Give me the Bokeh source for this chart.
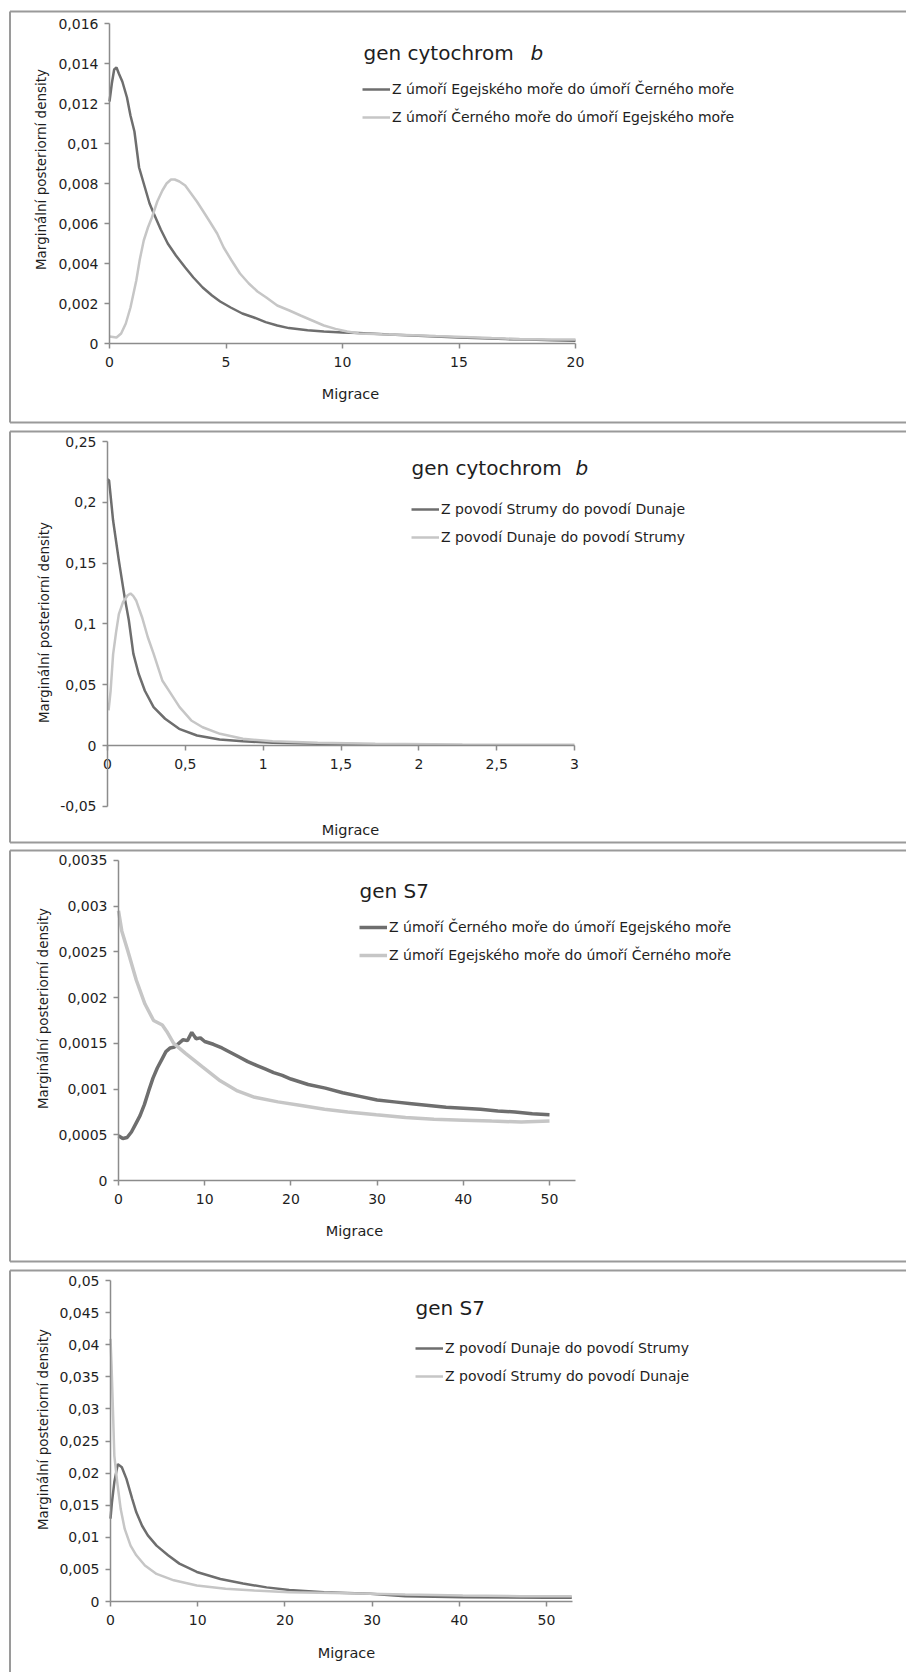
import math
from bokeh.plotting import figure
from bokeh.models import (LinearAxis, FixedTicker, CustomJSTickFormatter, Label,
                          Legend, LegendItem, Range1d)
from bokeh.layouts import column
from bokeh.embed import file_html
from bokeh.resources import INLINE

# ---------------- data ----------------
# Panel 1: gen cytochrom b (Aegean / Black Sea)
p1_dark_x = [0, 0.1, 0.2, 0.3, 0.4, 0.55, 0.75, 0.9, 1.07, 1.27, 1.52, 1.72, 1.9, 2.2, 2.5, 2.85,
             3.25, 3.6, 4.0, 4.4, 4.75, 5.2, 5.7, 6.2, 6.7, 7.2, 7.7, 8.5, 9.2, 10.0, 10.7, 12,
             13, 14, 15, 16, 17, 18, 19, 20]
p1_dark_y = [0.0121, 0.0130, 0.0137, 0.0138, 0.0135, 0.0131, 0.0123, 0.0114, 0.0106, 0.0088, 0.0078,
             0.0070, 0.0065, 0.0057, 0.0050, 0.0044, 0.0038, 0.0033, 0.0028, 0.0024, 0.0021, 0.0018,
             0.0015, 0.0013, 0.00107, 0.0009, 0.00077, 0.00066, 0.0006, 0.00055, 0.00052, 0.00045,
             0.0004, 0.00035, 0.0003, 0.00026, 0.00022, 0.0002, 0.00016, 0.00014]
p1_light_x = [0, 0.3, 0.5, 0.7, 0.9, 1.15, 1.3, 1.47, 1.65, 1.82, 2.05, 2.27, 2.45, 2.64, 2.8, 3.0,
              3.25, 3.5, 3.75, 4.0, 4.3, 4.62, 4.9, 5.24, 5.6, 5.98, 6.35, 6.73, 7.2, 7.72, 8.2, 8.7,
              9.2, 9.7, 10.2, 10.7, 11.7, 12.7, 14, 15.2, 16.4, 17.6, 18.8, 20]
p1_light_y = [0.00035, 0.0003, 0.0005, 0.001, 0.0018, 0.00315, 0.0042, 0.00515, 0.0058, 0.0063,
              0.0071, 0.00765, 0.0080, 0.0082, 0.0082, 0.0081, 0.0079, 0.0075, 0.0071, 0.00665,
              0.0061, 0.0055, 0.0048, 0.00415, 0.0035, 0.0030, 0.0026, 0.0023, 0.0019, 0.00165,
              0.0014, 0.00115, 0.0009, 0.00073, 0.0006, 0.0005, 0.00046, 0.00043, 0.00037, 0.00032,
              0.00027, 0.00023, 0.0002, 0.0002]

# Panel 2: gen cytochrom b (Struma / Danube)
p2_dark_x = [0, 0.01, 0.036, 0.073, 0.11, 0.137, 0.166, 0.2, 0.24, 0.296, 0.37, 0.46, 0.575, 0.72,
             0.87, 1.06, 1.35, 1.65, 1.95]
p2_dark_y = [0.219, 0.218, 0.185, 0.152, 0.122, 0.103, 0.0755, 0.059, 0.045, 0.0315, 0.022, 0.0137,
             0.0082, 0.0049, 0.0035, 0.0022, 0.0014, 0.001, 0.0008]
p2_light_x = [0.007, 0.02, 0.036, 0.055, 0.073, 0.1, 0.13, 0.148, 0.165, 0.185, 0.222, 0.259, 0.296,
              0.352, 0.408, 0.463, 0.538, 0.611, 0.723, 0.87, 1.06, 1.35, 1.72, 2.28, 3.0]
p2_light_y = [0.0288, 0.045, 0.075, 0.093, 0.108, 0.118, 0.1235, 0.125, 0.123, 0.119, 0.1055, 0.089,
              0.0755, 0.0535, 0.0425, 0.0315, 0.0206, 0.015, 0.0096, 0.0055, 0.0035, 0.0022, 0.0014,
              0.0008, 0.0006]

# Panel 3: gen S7 (Black Sea / Aegean)
p3_dark_x = [0, 0.5, 1, 1.5, 2, 2.5, 3, 3.5, 4, 4.5, 5, 5.5, 6, 6.5, 7, 7.5, 8, 8.5, 9, 9.5, 10,
             11, 12, 13, 14, 15, 16, 17, 18, 19, 20, 22, 24, 26, 28, 30, 32, 34, 36, 38, 40, 42,
             44, 46, 48, 50]
p3_dark_y = [0.00049, 0.00046, 0.00047, 0.00053, 0.00062, 0.00071, 0.00083, 0.00098, 0.00112,
             0.00123, 0.00132, 0.00141, 0.00145, 0.00146, 0.0015, 0.00154, 0.00153, 0.00162,
             0.00155, 0.00156, 0.00152, 0.00149, 0.00145, 0.0014, 0.00135, 0.0013, 0.00126,
             0.00122, 0.00118, 0.00115, 0.00111, 0.00105, 0.00101, 0.00096, 0.00092, 0.00088,
             0.00086, 0.00084, 0.00082, 0.0008, 0.00079, 0.00078, 0.00076, 0.00075, 0.00073,
             0.00072]
p3_light_x = [0, 0.38, 1.05, 2.07, 3.07, 4.07, 5.08, 5.6, 6.4, 7.77, 9.78, 11.8, 13.8, 15.8, 18.5,
              21.2, 23.9, 26.6, 29.9, 33.3, 36.6, 40, 43.3, 46.7, 50]
p3_light_y = [0.00295, 0.00273, 0.00252, 0.00219, 0.00193, 0.00175, 0.0017, 0.00163, 0.0015,
              0.00139, 0.00124, 0.00109, 0.00098, 0.00091, 0.00086, 0.00082, 0.00078, 0.00075,
              0.00072, 0.00069, 0.00067, 0.00066, 0.00065, 0.00064, 0.00065]

# Panel 4: gen S7 (Danube / Struma)
p4_dark_x = [0, 0.17, 0.44, 0.84, 1.3, 1.83, 2.49, 2.96, 3.62, 4.28, 5.28, 6.6, 7.9, 9.9, 12.6, 15.2,
             17.9, 20.5, 24.5, 29.8, 33.8, 40.4, 50, 52.9]
p4_dark_y = [0.0129, 0.0155, 0.0186, 0.0214, 0.0209, 0.0191, 0.016, 0.0139, 0.0118, 0.0103, 0.0087,
             0.0072, 0.0059, 0.0046, 0.0035, 0.0028, 0.0022, 0.0018, 0.00145, 0.0012, 0.0008, 0.00067,
             0.0006, 0.0006]
p4_light_x = [0, 0.12, 0.24, 0.44, 0.77, 1.17, 1.63, 2.3, 2.96, 3.95, 5.28, 7.26, 9.9, 13.2, 16.5, 20.5,
              27.1, 33.8, 40.4, 47, 52.9]
p4_light_y = [0.0409, 0.0368, 0.0316, 0.0227, 0.0186, 0.0144, 0.0113, 0.0087, 0.0072, 0.0056, 0.0043,
              0.0033, 0.0025, 0.002, 0.0017, 0.00145, 0.0013, 0.0011, 0.00093, 0.00083, 0.00083]

x_ticks = [[0, 5, 10, 15, 20], [0, 0.5, 1, 1.5, 2, 2.5, 3], [0, 10, 20, 30, 40, 50], [0, 10, 20, 30, 40, 50]]
y_ticks = [[0, 0.002, 0.004, 0.006, 0.008, 0.01, 0.012, 0.014, 0.016],
           [-0.05, 0, 0.05, 0.1, 0.15, 0.2, 0.25],
           [0, 0.0005, 0.001, 0.0015, 0.002, 0.0025, 0.003, 0.0035],
           [0, 0.005, 0.01, 0.015, 0.02, 0.025, 0.03, 0.035, 0.04, 0.045, 0.05]]
x_bounds = [(0, 20), (0, 3), (0, 53), (0, 53)]

titles = ["gen cytochrom", "gen cytochrom", "gen S7", "gen S7"]
title_italic = ["b", "b", None, None]
legend_dark = ["Z úmoří Egejského moře do úmoří Černého moře",
               "Z povodí Strumy do povodí Dunaje",
               "Z úmoří Černého moře do úmoří Egejského moře",
               "Z povodí Dunaje do povodí Strumy"]
legend_light = ["Z úmoří Černého moře do úmoří Egejského moře",
                "Z povodí Dunaje do povodí Strumy",
                "Z úmoří Egejského moře do úmoří Černého moře",
                "Z povodí Strumy do povodí Dunaje"]
y_label = "Marginální posteriorní density"
x_label = "Migrace"

series = [(p1_dark_x, p1_dark_y, p1_light_x, p1_light_y),
          (p2_dark_x, p2_dark_y, p2_light_x, p2_light_y),
          (p3_dark_x, p3_dark_y, p3_light_x, p3_light_y),
          (p4_dark_x, p4_dark_y, p4_light_x, p4_light_y)]

# ---------------- layout (page pixels) ----------------
layout = [
    dict(ct=0, cb=427, bt=11, bb=422, x0=109, sx=23.3, y0=343, sy=20000.0, lw=2.5,
         title=(363, 52), tb=530, leg=(362, 89), ylab=(40, 169), xlab=(350, 393)),
    dict(ct=427, cb=846, bt=431, bb=842, x0=107, sx=155.67, y0=745, sy=1216.0, lw=2.5,
         title=(411, 467), tb=575, leg=(411, 509), ylab=(43, 622), xlab=(350, 829)),
    dict(ct=846, cb=1266, bt=850, bb=1261, x0=118, sx=8.62, y0=1180, sy=91428.6, lw=3.5,
         title=(359, 890), tb=None, leg=(359, 927), ylab=(42, 1008), xlab=(354, 1230)),
    dict(ct=1266, cb=1672, bt=1270, bb=1800, x0=110, sx=8.72, y0=1601, sy=6420.0, lw=2.5,
         title=(415, 1307), tb=None, leg=(415, 1348), ylab=(42, 1429), xlab=(346, 1652)),
]

DARK = "#6e6e6e"
LIGHT = "#c6c6c6"
AXIS = "#8c8c8c"
BOX = "#9a9a9a"
TEXT = "#1e1e1e"
FONT = "DejaVu Sans"
PAGE_L, PAGE_R = 0, 906

fmt = CustomJSTickFormatter(code="return String(Number(tick.toPrecision(6))).replace('.', ',');")

figs = []
for i, L in enumerate(layout):
    H = L["cb"] - L["ct"]
    X = lambda px, L=L: (px - L["x0"]) / L["sx"]
    Y = lambda py, L=L: (L["y0"] - py) / L["sy"]
    p = figure(width=PAGE_R - PAGE_L, height=H, output_backend="svg", toolbar_location=None,
               x_axis_location=None, y_axis_location=None, min_border=0,
               x_range=Range1d(X(PAGE_L), X(PAGE_R)), y_range=Range1d(Y(L["cb"]), Y(L["ct"])))
    p.title.visible = False
    p.outline_line_color = None
    p.grid.visible = False
    p.background_fill_color = "white"
    p.border_fill_color = "white"

    # panel frame (left, top, bottom sides; right side lies beyond the page)
    bl, br = X(9.5), X(2000)
    p.multi_line(xs=[[bl, bl], [bl, br], [bl, br]],
                 ys=[[Y(L["bt"]), Y(L["bb"])], [Y(L["bt"]), Y(L["bt"])], [Y(L["bb"]), Y(L["bb"])]],
                 line_color=BOX, line_width=2)

    yt = y_ticks[i]
    ya = LinearAxis(fixed_location=0, bounds=(min(yt), max(yt)), ticker=FixedTicker(ticks=yt),
                    formatter=fmt)
    xa = LinearAxis(fixed_location=0, bounds=x_bounds[i], ticker=FixedTicker(ticks=x_ticks[i]),
                    formatter=fmt)
    for ax in (ya, xa):
        ax.axis_line_color = AXIS
        ax.axis_line_width = 1.5
        ax.major_tick_line_color = AXIS
        ax.major_tick_line_width = 1.5
        ax.major_tick_in = 0
        ax.major_tick_out = 5
        ax.minor_tick_in = 0
        ax.minor_tick_out = 0
        ax.major_label_text_font = FONT
        ax.major_label_text_font_size = "14px"
        ax.major_label_text_color = TEXT
    ya.major_label_standoff = 6
    xa.major_label_standoff = 8
    p.add_layout(ya, "left")
    p.add_layout(xa, "below")

    dx, dy, lx, ly = series[i]
    rd = p.line(dx, dy, line_color=DARK, line_width=L["lw"])
    rl = p.line(lx, ly, line_color=LIGHT, line_width=L["lw"])

    lg = Legend(items=[LegendItem(label=legend_dark[i], renderers=[rd]),
                       LegendItem(label=legend_light[i], renderers=[rl])],
                location=(L["leg"][0] - PAGE_L, L["cb"] - (L["leg"][1] + 38)),
                orientation="vertical", spacing=8, glyph_width=28, glyph_height=20,
                label_height=20, label_standoff=2, padding=0, margin=0,
                border_line_color=None, background_fill_alpha=0,
                label_text_font=FONT, label_text_font_size="14px", label_text_color=TEXT)
    p.add_layout(lg, "center")

    tx, ty = L["title"]
    p.add_layout(Label(x=X(tx), y=Y(ty), text=titles[i], text_font=FONT, text_font_size="20px",
                       text_color=TEXT, text_baseline="middle", text_align="left"))
    if title_italic[i]:
        p.add_layout(Label(x=X(L["tb"]), y=Y(ty), text=title_italic[i], text_font=FONT,
                           text_font_size="20px", text_font_style="italic", text_color=TEXT,
                           text_baseline="middle", text_align="left"))
    yx, yy = L["ylab"]
    p.add_layout(Label(x=X(yx), y=Y(yy), text=y_label, angle=math.pi / 2, text_font=FONT,
                       text_font_size="13.5px", text_color=TEXT, text_baseline="middle",
                       text_align="center"))
    mx, my = L["xlab"]
    p.add_layout(Label(x=X(mx), y=Y(my), text=x_label, text_font=FONT, text_font_size="14.5px",
                       text_color=TEXT, text_baseline="middle", text_align="center"))
    figs.append(p)

page = column(*figs, spacing=0)
open("out.html", "w").write(file_html(page, INLINE))
